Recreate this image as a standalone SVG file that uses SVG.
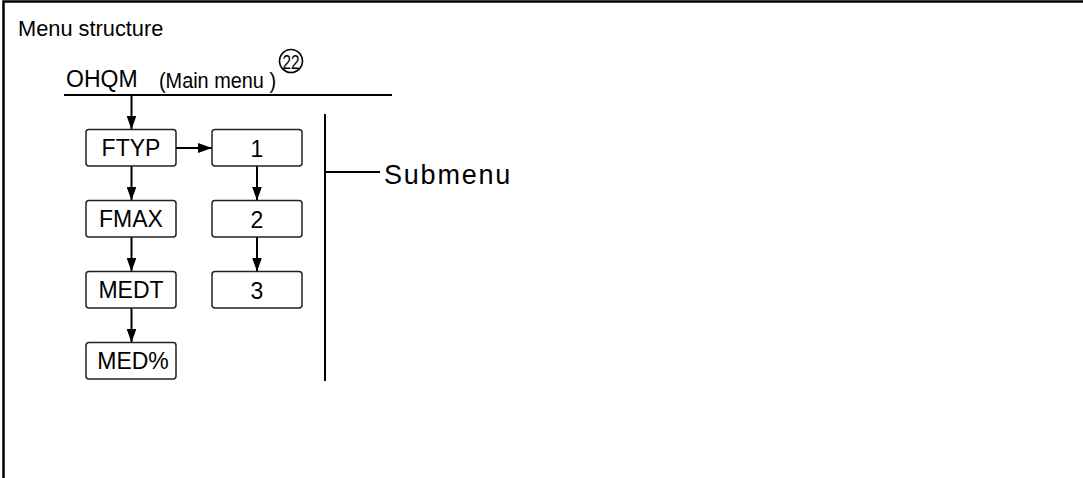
<svg xmlns="http://www.w3.org/2000/svg" width="1083" height="478" viewBox="0 0 1083 478">
<defs>
<style>
.frame{stroke:#000;stroke-width:2.5;fill:none}
.ln{stroke:#000;stroke-width:2;fill:none}
.box{fill:#fff;stroke:#222;stroke-width:1.5}
.t{font-family:"Liberation Sans",Arial,sans-serif;fill:#000}
.bt{font-family:"Liberation Sans",Arial,sans-serif;font-size:23px;fill:#000;text-anchor:middle}
</style>
<marker id="ahl" viewBox="0 0 14 10" refX="14" refY="5" markerWidth="14" markerHeight="10" markerUnits="userSpaceOnUse" orient="auto">
<path d="M0,0 L14,5 L0,10 Z" fill="#000"/>
</marker>
</defs>
<rect width="1083" height="478" fill="#fff"/>
<path class="frame" d="M3.5,478 V1.5 H1083"/>
<text class="t" x="18" y="36" font-size="21.8">Menu structure</text>
<g id="header">
<text class="t" x="66" y="87" font-size="23">OHQM</text>
<text class="t" x="159" y="88" font-size="22.5" textLength="117" lengthAdjust="spacingAndGlyphs">(Main menu )</text>
<circle cx="291" cy="61" r="11.5" fill="none" stroke="#000" stroke-width="1.6"/>
<text class="t" x="291" y="68.5" font-size="20" text-anchor="middle" textLength="17" lengthAdjust="spacingAndGlyphs">22</text>
<line class="ln" x1="64" y1="95" x2="392" y2="95"/>
</g>
<g id="connectors">
<line class="ln" x1="131.5" y1="95" x2="131.5" y2="129.5" marker-end="url(#ahl)"/>
<line class="ln" x1="131.5" y1="166" x2="131.5" y2="200.5" marker-end="url(#ahl)"/>
<line class="ln" x1="131.5" y1="237" x2="131.5" y2="271.5" marker-end="url(#ahl)"/>
<line class="ln" x1="131.5" y1="308" x2="131.5" y2="342.5" marker-end="url(#ahl)"/>
<line class="ln" x1="176" y1="148" x2="212" y2="148" marker-end="url(#ahl)"/>
<line class="ln" x1="257" y1="166" x2="257" y2="200.5" marker-end="url(#ahl)"/>
<line class="ln" x1="257" y1="237" x2="257" y2="271.5" marker-end="url(#ahl)"/>
<line class="ln" x1="325" y1="114" x2="325" y2="381"/>
<line class="ln" x1="325" y1="172" x2="380" y2="172"/>
</g>
<g id="n-ftyp"><rect class="box" x="86" y="129.5" width="90" height="36.5" rx="3"/><text class="bt" x="131" y="156">FTYP</text></g>
<g id="n-fmax"><rect class="box" x="86" y="200.5" width="90" height="36.5" rx="3"/><text class="bt" x="131" y="227">FMAX</text></g>
<g id="n-medt"><rect class="box" x="86" y="271.5" width="90" height="36.5" rx="3"/><text class="bt" x="131" y="298">MEDT</text></g>
<g id="n-medp"><rect class="box" x="86" y="342.5" width="90" height="36.5" rx="3"/><text class="bt" x="133" y="369">MED%</text></g>
<g id="n-1"><rect class="box" x="212" y="129.5" width="90" height="36.5" rx="3"/><text class="bt" x="257" y="157">1</text></g>
<g id="n-2"><rect class="box" x="212" y="200.5" width="90" height="36.5" rx="3"/><text class="bt" x="257" y="228">2</text></g>
<g id="n-3"><rect class="box" x="212" y="271.5" width="90" height="36.5" rx="3"/><text class="bt" x="257" y="299">3</text></g>
<g id="submenu"><text class="t" x="384" y="184" font-size="27" letter-spacing="1.8">Submenu</text></g>
</svg>
